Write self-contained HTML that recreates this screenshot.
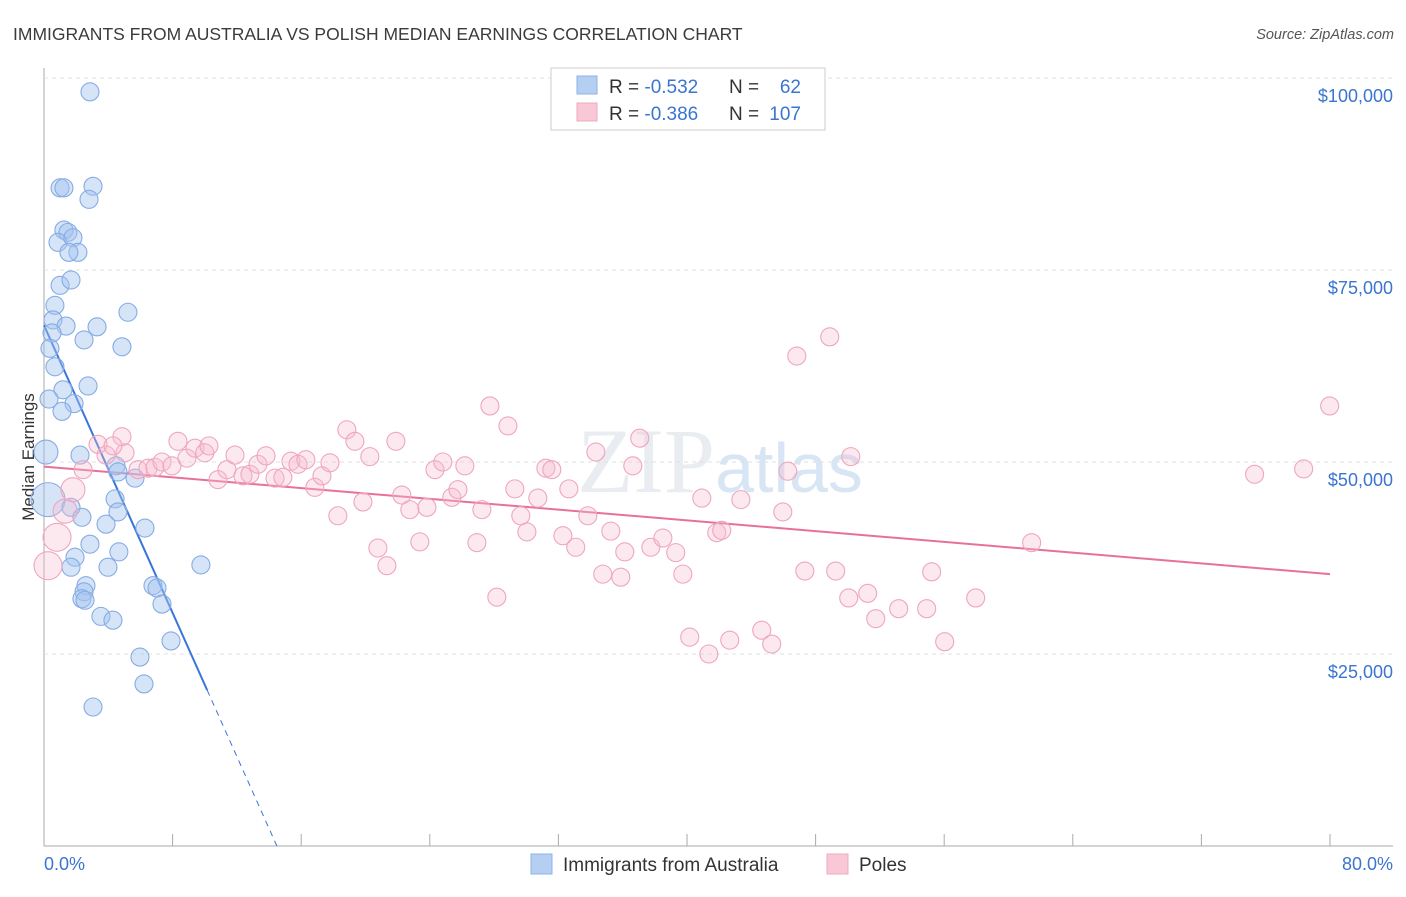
<!DOCTYPE html>
<html><head><meta charset="utf-8"><style>
body{margin:0;background:#fff;font-family:"Liberation Sans",sans-serif;}
</style></head><body>
<svg width="1406" height="892" xmlns="http://www.w3.org/2000/svg" id="svg" style="font-family:'Liberation Sans',sans-serif">
<text x="13" y="40" font-size="17.5" fill="#3b3b3b">IMMIGRANTS FROM AUSTRALIA VS POLISH MEDIAN EARNINGS CORRELATION CHART</text>
<text x="1394" y="39" font-size="14.5" fill="#555" text-anchor="end" font-style="italic">Source: ZipAtlas.com</text>
<text x="720" y="492" font-size="92" fill="#e9edf2" text-anchor="middle" font-family="Liberation Serif">ZIP<tspan fill="#d8e5f4" font-family="Liberation Sans" font-size="70">atlas</tspan></text>
<text transform="translate(34,457) rotate(-90)" font-size="17" fill="#333" text-anchor="middle">Median Earnings</text>
<g id="grid"></g><g id="ticks"></g><g id="lines"></g><g id="pts"></g>
<g>
<rect x="551" y="68" width="274" height="62" fill="#fff" stroke="#ccc"/>
<rect x="577" y="76" width="20" height="18" fill="#b5cff3" stroke="#8eb2e6"/>
<rect x="577" y="103" width="20" height="18" fill="#f9c8d6" stroke="#efa8be"/>
<text x="609" y="93" font-size="19" fill="#333">R = <tspan fill="#3a75d0">-0.532</tspan></text>
<text x="729" y="93" font-size="19" fill="#333">N =</text>
<text x="801" y="93" font-size="19" fill="#3a75d0" text-anchor="end">62</text>
<text x="609" y="120" font-size="19" fill="#333">R = <tspan fill="#3a75d0">-0.386</tspan></text>
<text x="729" y="120" font-size="19" fill="#333">N =</text>
<text x="801" y="120" font-size="19" fill="#3a75d0" text-anchor="end">107</text>
</g>
<g>
<rect x="531" y="854" width="21" height="20" fill="#b5cff3" stroke="#8eb2e6"/>
<text x="563" y="871" font-size="19" fill="#333">Immigrants from Australia</text>
<rect x="827" y="854" width="21" height="20" fill="#f9c8d6" stroke="#efa8be"/>
<text x="859" y="871" font-size="19" fill="#333">Poles</text>
</g>
<text x="44" y="870" font-size="18" fill="#3a75d0">0.0%</text>
<text x="1393" y="870" font-size="18" fill="#3a75d0" text-anchor="end">80.0%</text>
</svg>
<script>
const yTicks=[25,50,75,100];
const yTickLabels=["$25,000","$50,000","$75,000","$100,000"];
const xTicks=[0,8,16,24,32,40,48,56,64,72,80];
const blueX=[2.86,1.0,1.24,3.05,2.8,1.24,1.49,0.87,1.8,2.11,1.55,1.0,1.68,0.68,0.56,1.37,3.3,5.22,0.5,2.49,4.85,0.37,0.68,2.74,1.18,0.31,1.87,1.12,0.12,2.24,4.48,5.66,4.6,0.25,4.42,1.68,4.6,2.36,6.28,3.86,2.86,4.66,1.93,1.68,3.98,2.61,2.49,6.78,7.03,2.36,2.55,7.34,3.54,4.29,7.9,5.97,6.22,9.76,3.05];
const blueY=[98.2,85.7,85.7,85.9,84.2,80.2,79.9,78.6,79.2,77.3,77.3,73.0,73.7,70.4,68.5,67.7,67.6,69.5,66.8,65.9,65.0,64.8,62.4,59.9,59.4,58.2,57.6,56.6,51.3,50.9,49.5,47.9,48.7,45.1,45.2,44.1,43.5,42.8,41.4,41.9,39.3,38.3,37.6,36.3,36.3,33.9,33.1,33.9,33.6,32.2,32.0,31.5,29.9,29.4,26.7,24.6,21.1,36.6,18.1];
const blueR=[9,9,9,9,9,9,9,9,9,9,9,9,9,9,9,9,9,9,9,9,9,9,9,9,9,9,9,9,12,9,9,9,9,17,9,9,9,9,9,9,9,9,9,9,9,9,9,9,9,9,9,9,9,9,9,9,9,9,9];
const pinkX=[0.25,0.81,1.31,1.8,2.43,3.36,3.86,4.85,5.04,4.29,5.85,6.47,6.9,7.34,7.96,8.33,8.89,9.39,10.0,10.26,10.82,11.38,11.88,12.38,12.81,13.31,13.81,14.37,14.86,15.36,15.8,16.29,16.85,17.29,17.79,18.28,18.84,19.34,19.84,20.27,20.77,21.33,21.89,22.26,22.76,23.38,23.82,24.32,24.81,25.37,25.75,26.18,26.93,27.24,27.74,28.17,28.86,29.29,29.66,30.04,30.72,31.22,31.59,32.28,32.65,33.08,33.83,34.33,34.76,35.26,35.88,36.13,36.63,37.06,37.75,38.5,39.3,39.74,40.17,40.92,41.36,41.85,42.16,42.66,43.35,44.65,45.27,45.96,46.27,46.83,47.33,48.88,49.25,50.19,50.06,51.24,51.74,53.17,54.91,55.22,56.03,57.96,61.44,75.31,78.36,79.98];
const pinkY=[36.5,40.2,43.6,46.4,49.0,52.3,50.9,53.3,51.2,52.1,49.0,49.2,49.3,50.0,49.5,52.7,50.5,51.8,51.2,52.1,47.7,49.0,50.9,48.2,48.4,49.7,50.8,47.9,48.0,50.1,49.7,50.3,46.7,48.2,49.9,43.0,54.2,52.7,44.8,50.7,38.8,36.5,52.7,45.7,43.8,39.6,44.1,49.0,50.0,45.4,46.4,49.5,39.5,43.8,57.3,32.4,54.7,46.5,43.0,40.9,45.3,49.2,49.0,40.4,46.5,38.9,43.0,51.3,35.4,41.0,35.0,38.3,49.5,53.1,38.9,40.1,38.2,35.4,27.2,45.3,25.0,40.8,41.1,26.8,45.1,28.1,26.3,43.5,48.8,63.8,35.8,66.3,35.8,50.7,32.3,32.9,29.6,30.9,30.9,35.7,26.6,32.3,39.5,48.4,49.1,57.3];
const pinkBig=[14,14,12,12];
const blueTrend=[67.8,-4.68]; const blueSolidEnd=10.15, blueDashEnd=14.5;
const pinkTrend=[49.4,-0.175];
const X=v=>44+v*16.075, Y=v=>846-v*7.68;
const NS="http://www.w3.org/2000/svg";
function mk(t,a,p){const e=document.createElementNS(NS,t);for(const k in a)e.setAttribute(k,a[k]);document.getElementById(p).appendChild(e);return e;}
let e=mk('line',{x1:44,y1:68,x2:44,y2:846,stroke:'#aaa'},'grid');


e=mk('line',{x1:44,y1:846,x2:1393,y2:846,stroke:'#aaa'},'grid');


yTicks.forEach((t,i)=>{
 let g=mk('line',{x1:44,y1:Y(t),x2:1393,y2:Y(t),stroke:'#e0e0e0','stroke-dasharray':'4 4'},'grid');
 
 
 let l=mk('text',{x:1393,y:Y(t)+24,'font-size':18,fill:'#3a75d0','text-anchor':'end'},'ticks');
 
 
 l.textContent=yTickLabels[i];
});
xTicks.forEach(t=>{
 let k=mk('line',{x1:X(t),y1:834,x2:X(t),y2:846,stroke:'#aaa'},'ticks');
 
 
});
blueX.forEach((x,i)=>{
 let c=mk('circle',{cx:X(x),cy:Y(blueY[i]),r:blueR[i],fill:'rgba(165,196,240,0.45)',stroke:'#86ace4','stroke-width':1.1},'pts');
 
 
});
pinkX.forEach((x,i)=>{
 let c=mk('circle',{cx:X(x),cy:Y(pinkY[i]),r:pinkBig[i]||9,fill:'rgba(247,190,208,0.35)',stroke:'#efa6bd','stroke-width':1.1},'pts');
 
 
});
const by=x=>blueTrend[0]+blueTrend[1]*x, py=x=>pinkTrend[0]+pinkTrend[1]*x;
e=mk('line',{x1:X(0),y1:Y(by(0)),x2:X(blueSolidEnd),y2:Y(by(blueSolidEnd)),stroke:'#3a76d8','stroke-width':2},'lines');


e=mk('line',{x1:X(blueSolidEnd),y1:Y(by(blueSolidEnd)),x2:X(blueDashEnd),y2:Y(by(blueDashEnd)),stroke:'#3a76d8','stroke-width':1,'stroke-dasharray':'6 5'},'lines');


e=mk('line',{x1:X(0),y1:Y(py(0)),x2:X(80),y2:Y(py(80)),stroke:'#e8709a','stroke-width':2},'lines');


</script>
</body></html>
